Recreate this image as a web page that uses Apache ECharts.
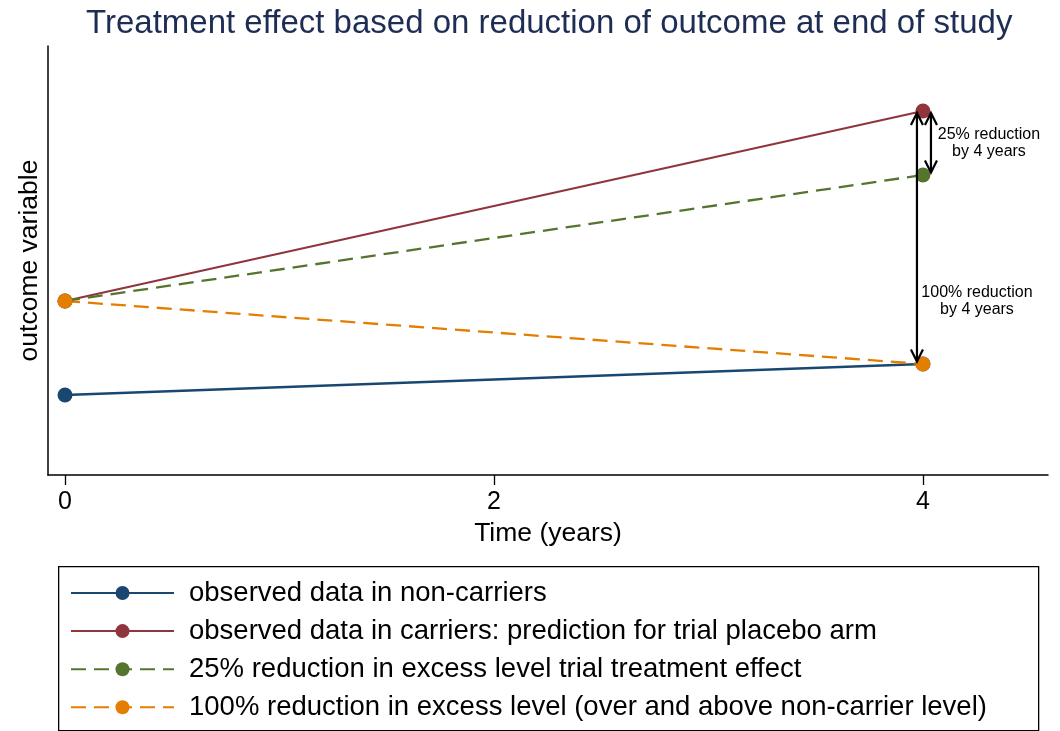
<!DOCTYPE html>
<html><head><meta charset="utf-8">
<script src="https://cdn.jsdelivr.net/npm/echarts@6/dist/echarts.min.js"></script>
<style>html,body{margin:0;padding:0;background:#fff}#c{width:1060px;height:731px}</style>
</head><body><div id="c"></div>
<script>
const timePoints = [0, 4];
const nonCarriers = [8.0, 11.1];
const carriers = [17.4, 36.4];
const reduction25 = [17.4, 30.0];
const reduction100 = [17.4, 11.1];
const xTickValues = [0, 2, 4];
const seriesNames = [
  'observed data in non-carriers',
  'observed data in carriers: prediction for trial placebo arm',
  '25% reduction in excess level trial treatment effect',
  '100% reduction in excess level (over and above non-carrier level)'
];
const seriesColors = ['#1a476f', '#90353b', '#55752f', '#e37e00'];
// arrow annotations: [time, fromValue, toValue]
const arrowData = [[4, 36.4, 11.1], [4, 36.4, 30.0]];
const arrowTexts = ['100% reduction\nby 4 years', '25% reduction\nby 4 years'];

const FONT = '"Liberation Sans", Arial, Helvetica, sans-serif';
const chart = echarts.init(document.getElementById('c'), null, {renderer: 'canvas'});

function lineSeries(idx, values, dashed) {
  return {
    type: 'line',
    name: seriesNames[idx],
    data: timePoints.map((t, i) => [t, values[i]]),
    symbol: 'circle',
    symbolSize: 15,
    showAllSymbol: true,
    lineStyle: {color: seriesColors[idx], width: 2.3, type: dashed ? [15, 8] : 'solid'},
    itemStyle: {color: seriesColors[idx]},
    emphasis: {disabled: true},
    z: 2
  };
}

const arrowOffsets = [{dx: -6, tx: 54, ty: -63}, {dx: 8, tx: 66, ty: 0}];

const option = {
  animation: false,
  backgroundColor: '#fff',
  title: {
    text: 'Treatment effect based on reduction of outcome at end of study',
    left: 81, top: 2,
    textStyle: {fontFamily: FONT, fontSize: 33, fontWeight: 'normal', color: '#1e2d53'}
  },
  graphic: [{
    type: 'rect', left: 58, top: 566, silent: true, z: 0,
    shape: {width: 980, height: 164},
    style: {fill: '#fff', stroke: '#000', lineWidth: 1.3}
  }],
  grid: {left: 48, right: 12, top: 46, bottom: 256, containLabel: false},
  xAxis: {
    type: 'value', min: -0.0793, max: 4.583,
    name: 'Time (years)', nameLocation: 'middle', nameGap: 45,
    nameTextStyle: {fontFamily: FONT, fontSize: 26.5, color: '#000'},
    axisLine: {show: true, onZero: false, lineStyle: {color: '#000', width: 1.5}},
    axisTick: {show: true, length: 10, customValues: xTickValues, lineStyle: {color: '#000', width: 1.3}},
    axisLabel: {show: true, customValues: xTickValues, margin: 15, fontFamily: FONT, fontSize: 25, color: '#000'},
    splitLine: {show: false}
  },
  yAxis: {
    type: 'value', min: 0, max: 42.9,
    name: 'outcome variable', nameLocation: 'middle', nameGap: 5,
    nameTextStyle: {fontFamily: FONT, fontSize: 26.5, color: '#000'},
    axisLine: {show: true, onZero: false, lineStyle: {color: '#000', width: 1.5}},
    axisTick: {show: false}, axisLabel: {show: false}, splitLine: {show: false}
  },
  legend: {
    orient: 'vertical', left: 70, top: 579,
    padding: 0,
    itemGap: 10.1, itemWidth: 103, itemHeight: 17.5,
    selectedMode: false,
    data: seriesNames,
    textStyle: {fontFamily: FONT, fontSize: 27.5, color: '#000', padding: [0, 0, 0, 10]}
  },
  series: [
    lineSeries(0, nonCarriers, false),
    lineSeries(1, carriers, false),
    lineSeries(2, reduction25, true),
    lineSeries(3, reduction100, true),
    {
      type: 'custom',
      silent: true,
      z: 3,
      data: arrowData,
      encode: {x: 0, y: [1, 2]},
      renderItem: function (params, api) {
        const i = params.dataIndex;
        const off = arrowOffsets[i];
        const pA = api.coord([api.value(0), api.value(1)]);
        const pB = api.coord([api.value(0), api.value(2)]);
        const x = pA[0] + off.dx;
        const y1 = pA[1] + 2, y2 = pB[1] - 2.5;
        const h = 12, w = 6;
        const st = {stroke: '#000', lineWidth: 2.2, fill: null};
        const midY = (y1 + y2) / 2;
        const textY = i === 0 ? pB[1] + off.ty : midY;
        return {
          type: 'group',
          children: [
            {type: 'line', shape: {x1: x, y1: y1, x2: x, y2: y2}, style: st},
            {type: 'polyline', shape: {points: [[x - w, y1 + h], [x, y1], [x + w, y1 + h]]}, style: st},
            {type: 'polyline', shape: {points: [[x - w, y2 - h], [x, y2], [x + w, y2 - h]]}, style: st},
            {type: 'text', x: pA[0] + off.tx, y: textY,
              style: {text: arrowTexts[i], fontFamily: FONT, fontSize: 16, lineHeight: 17,
                fill: '#000', align: 'center', verticalAlign: 'middle'}}
          ]
        };
      }
    }
  ]
};
chart.setOption(option);
</script></body></html>
